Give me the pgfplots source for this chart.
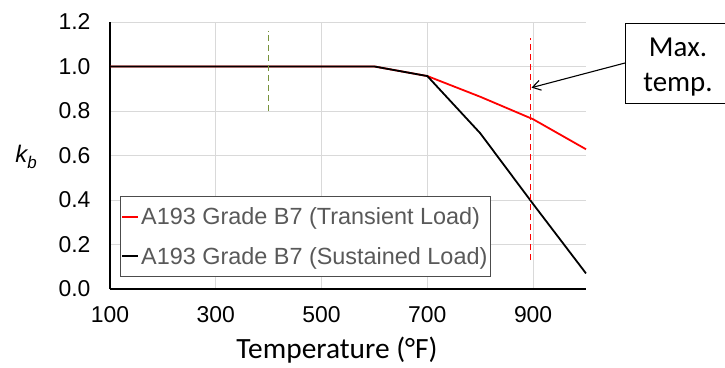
\documentclass[border=0pt]{standalone}
\usepackage{pgfplots}
\pgfplotsset{compat=1.18}
\usepackage{fontspec}
\setmainfont{Liberation Sans}
\newfontfamily\calibri{Carlito}
\usetikzlibrary{arrows.meta}
\definecolor{gridgray}{HTML}{D9D9D9}
\definecolor{olivegreen}{HTML}{77933C}
\definecolor{legtext}{HTML}{595959}
\definecolor{purered}{HTML}{FF0000}
\begin{document}
\begin{tikzpicture}[x=1bp,y=1bp]
\path[use as bounding box] (0,0) rectangle (725,367);
\begin{axis}[
  at={(110bp,78bp)}, anchor=south west,
  width=476bp, height=267bp, scale only axis,
  xmin=100, xmax=1000, ymin=0, ymax=1.2,
  xtick={100,300,500,700,900},
  ytick={0,0.2,0.4,0.6,0.8,1.0,1.2},
  major tick length=0pt,
  grid=major,
  grid style={gridgray, line width=0.8bp},
  axis x line*=bottom, axis y line*=left,
  axis line style={-, black, line width=1.4bp},
  /pgf/number format/assume math mode=true,
  ticklabel style={font=\fontsize{23}{23}\selectfont},
  y tick label style={/pgf/number format/.cd, fixed, fixed zerofill, precision=1},
  x tick label style={/pgf/number format/.cd, fixed, 1000 sep={}},
  xticklabel shift=14bp, yticklabel shift=16bp,
  clip=false,
  legend style={at={(rel axis cs:0.021,0.045)}, anchor=south west,
    draw=black!70, line width=0.8bp, fill=white,
    font=\fontsize{23.5}{23.5}\selectfont, text=legtext,
    inner xsep=1bp, inner ysep=9bp, row sep=17bp,
    /tikz/every even column/.append style={column sep=0pt}},
  legend cell align=left,
  legend image code/.code={\draw[#1, line width=1.8bp] (0bp,0bp) -- (16bp,0bp);},
]
\addplot[draw=purered, line width=1.8bp] coordinates {(100,1.0) (600,1.0) (700,0.957) (800,0.864) (900,0.763) (1000,0.628)};
\addlegendentry{A193 Grade B7 (Transient Load)}
\addplot[draw=black, line width=1.8bp] coordinates {(100,1.0) (600,1.0) (700,0.957) (800,0.70) (900,0.382) (1000,0.07)};
\addlegendentry{A193 Grade B7 (Sustained Load)}
\addplot[draw=olivegreen, line width=1.3bp, dash pattern=on 6bp off 4bp, forget plot] coordinates {(400,0.8) (400,1.16)};
\addplot[draw=purered, line width=1.8bp, dash pattern=on 6bp off 4bp, forget plot] coordinates {(895,0.13) (895,1.13)};
\coordinate (tip) at (axis cs:897,0.905);
\end{axis}
\draw[line width=1bp] (625,264) rectangle (727,343);
\node[font=\calibri\fontsize{29}{29}\selectfont, anchor=base] at (678,311) {Max.};
\node[font=\calibri\fontsize{29}{29}\selectfont, anchor=base] at (678,276) {temp.};
\draw[line width=1.1bp, -{Straight Barb[length=8bp, width=10bp]}] (625,304) -- (tip);
\node[font=\itshape\fontsize{24}{24}\selectfont] at (26,210) {k\raisebox{-6bp}{\fontsize{17}{17}\selectfont b}};
\node[font=\calibri\fontsize{29.5}{29.5}\selectfont] at (337,17) {Temperature (°F)};
\end{tikzpicture}
\end{document}
